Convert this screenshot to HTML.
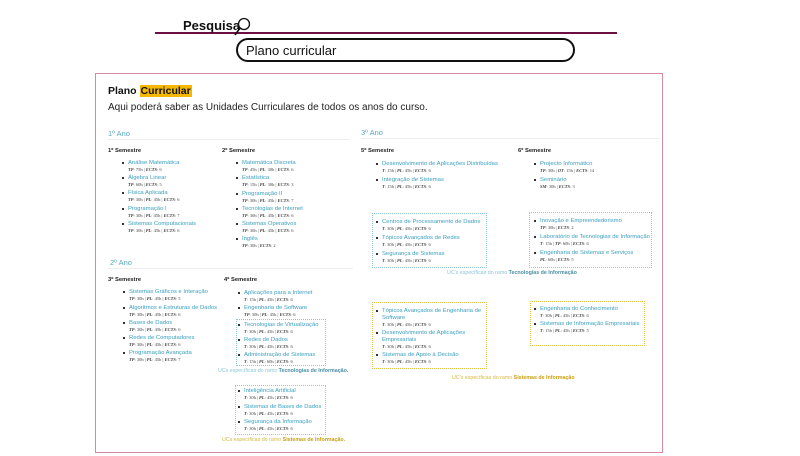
<!DOCTYPE html>
<html><head><meta charset="utf-8"><style>
*{margin:0;padding:0;box-sizing:border-box}
body{width:800px;height:456px;background:#fff;position:relative;overflow:hidden;font-family:"Liberation Sans",sans-serif}
.a{position:absolute;white-space:nowrap}
.it{position:absolute;font-size:5.9px;color:#3a9fbf;line-height:7px;white-space:nowrap}
.it::before{content:"";position:absolute;left:-6px;top:2px;width:2px;height:2px;background:#333}
.it i{display:block;font-style:normal;font-family:"Liberation Serif",serif;font-size:4.5px;color:#444;line-height:6px}
.it i b{font-style:italic}
.sem{position:absolute;font-size:5.8px;font-weight:bold;color:#222}
.yr{position:absolute;font-size:7.5px;color:#5aa8bd}
.bt{position:absolute;border:1px dotted #8cc6d6}
.by{position:absolute;border:1px dotted #e0c040}
.cap{position:absolute;font-size:5.3px;color:#8cc6d6;white-space:nowrap}
.cap b{color:#4a8fa5}
.capy{position:absolute;font-size:5.3px;color:#d8b840;white-space:nowrap}
.capy b{color:#c8a010}
</style></head><body>
<div class="a" style="left:155px;top:32px;width:462px;height:2px;background:#6b1040"></div>
<div class="a" style="left:183px;top:18px;font-size:13px;font-weight:bold;color:#111">Pesquisa</div>
<svg class="a" style="left:230px;top:14px" width="24" height="26"><circle cx="14" cy="10" r="5.5" fill="#fff" stroke="#111" stroke-width="1.3"/><line x1="10" y1="14" x2="5" y2="21" stroke="#111" stroke-width="1.6"/></svg>
<div class="a" style="left:236px;top:38px;width:339px;height:24px;border:2px solid #111;border-radius:12px"></div>
<div class="a" style="left:246px;top:43px;font-size:13px;color:#111">Plano curricular</div>
<div class="a" style="left:95px;top:73px;width:568px;height:380px;border:1px solid #d48a9e"></div>
<div class="a" style="left:108px;top:85px;font-size:10.5px;font-weight:bold;color:#111">Plano <span style="background:#f5b800;padding:0 1px">Curricular</span></div>
<div class="a" style="left:108px;top:102px;font-size:10px;color:#222">Aqui poderá saber as Unidades Curriculares de todos os anos do curso.</div>
<div class="yr" style="left:108px;top:129px">1º Ano</div>
<div class="a" style="left:108px;top:139px;width:242px;height:1px;background:#eee"></div>
<div class="yr" style="left:361px;top:128px">3º Ano</div>
<div class="a" style="left:361px;top:138px;width:299px;height:1px;background:#eee"></div>
<div class="yr" style="left:110px;top:258px">2º Ano</div>
<div class="a" style="left:108px;top:268px;width:245px;height:1px;background:#eee"></div>

<div class="sem" style="left:108px;top:148px">1º Semestre</div>
<div class="it" style="left:128px;top:160px">Análise Matemática<i><b>TP</b>: 75h | <b>ECTS</b>: 6</i></div>
<div class="it" style="left:128px;top:175px">Álgebra Linear<i><b>TP</b>: 60h | <b>ECTS</b>: 5</i></div>
<div class="it" style="left:128px;top:190px">Física Aplicada<i><b>TP</b>: 30h | <b>PL</b>: 45h | <b>ECTS</b>: 6</i></div>
<div class="it" style="left:128px;top:206px">Programação I<i><b>TP</b>: 30h | <b>PL</b>: 45h | <b>ECTS</b>: 7</i></div>
<div class="it" style="left:128px;top:221px">Sistemas Computacionais<i><b>TP</b>: 30h | <b>PL</b>: 45h | <b>ECTS</b>: 6</i></div>

<div class="sem" style="left:222px;top:148px">2º Semestre</div>
<div class="it" style="left:242px;top:160px">Matemática Discreta<i><b>TP</b>: 45h | <b>PL</b>: 30h | <b>ECTS</b>: 6</i></div>
<div class="it" style="left:242px;top:175px">Estatística<i><b>TP</b>: 15h | <b>PL</b>: 30h | <b>ECTS</b>: 3</i></div>
<div class="it" style="left:242px;top:191px">Programação II<i><b>TP</b>: 30h | <b>PL</b>: 45h | <b>ECTS</b>: 7</i></div>
<div class="it" style="left:242px;top:206px">Tecnologias de Internet<i><b>TP</b>: 30h | <b>PL</b>: 45h | <b>ECTS</b>: 6</i></div>
<div class="it" style="left:242px;top:221px">Sistemas Operativos<i><b>TP</b>: 30h | <b>PL</b>: 45h | <b>ECTS</b>: 6</i></div>
<div class="it" style="left:242px;top:236px">Inglês<i><b>TP</b>: 30h | <b>ECTS</b>: 2</i></div>

<div class="sem" style="left:108px;top:277px">3º Semestre</div>
<div class="it" style="left:129px;top:289px">Sistemas Gráficos e Interação<i><b>TP</b>: 30h | <b>PL</b>: 45h | <b>ECTS</b>: 5</i></div>
<div class="it" style="left:129px;top:305px">Algoritmos e Estruturas de Dados<i><b>TP</b>: 30h | <b>PL</b>: 45h | <b>ECTS</b>: 6</i></div>
<div class="it" style="left:129px;top:320px">Bases de Dados<i><b>TP</b>: 30h | <b>PL</b>: 45h | <b>ECTS</b>: 6</i></div>
<div class="it" style="left:129px;top:335px">Redes de Computadores<i><b>TP</b>: 30h | <b>PL</b>: 45h | <b>ECTS</b>: 6</i></div>
<div class="it" style="left:129px;top:350px">Programação Avançada<i><b>TP</b>: 30h | <b>PL</b>: 45h | <b>ECTS</b>: 7</i></div>

<div class="sem" style="left:224px;top:277px">4º Semestre</div>
<div class="it" style="left:244px;top:290px">Aplicações para a Internet<i><b>T</b>: 15h | <b>PL</b>: 45h | <b>ECTS</b>: 6</i></div>
<div class="it" style="left:244px;top:305px">Engenharia de Software<i><b>TP</b>: 30h | <b>PL</b>: 45h | <b>ECTS</b>: 6</i></div>
<div class="bt" style="left:236px;top:319px;width:90px;height:47px"></div>
<div class="it" style="left:244px;top:322px">Tecnologias de Virtualização<i><b>T</b>: 30h | <b>PL</b>: 45h | <b>ECTS</b>: 6</i></div>
<div class="it" style="left:244px;top:337px">Redes de Dados<i><b>T</b>: 30h | <b>PL</b>: 45h | <b>ECTS</b>: 6</i></div>
<div class="it" style="left:244px;top:352px">Administração de Sistemas<i><b>T</b>: 15h | <b>PL</b>: 60h | <b>ECTS</b>: 6</i></div>
<div class="cap" style="left:218px;top:368px">UCs específicas do ramo <b>Tecnologias de Informação.</b></div>
<div class="by" style="left:235px;top:385px;width:91px;height:50px"></div>
<div class="it" style="left:244px;top:388px">Inteligência Artificial<i><b>T</b>: 30h | <b>PL</b>: 45h | <b>ECTS</b>: 6</i></div>
<div class="it" style="left:244px;top:404px">Sistemas de Bases de Dados<i><b>T</b>: 30h | <b>PL</b>: 45h | <b>ECTS</b>: 6</i></div>
<div class="it" style="left:244px;top:419px">Segurança da Informação<i><b>T</b>: 30h | <b>PL</b>: 45h | <b>ECTS</b>: 6</i></div>
<div class="capy" style="left:222px;top:437px">UCs específicas do ramo <b>Sistemas de Informação.</b></div>

<div class="sem" style="left:361px;top:148px">5º Semestre</div>
<div class="it" style="left:382px;top:161px">Desenvolvimento de Aplicações Distribuídas<i><b>T</b>: 15h | <b>PL</b>: 45h | <b>ECTS</b>: 6</i></div>
<div class="it" style="left:382px;top:177px">Integração de Sistemas<i><b>T</b>: 15h | <b>PL</b>: 45h | <b>ECTS</b>: 6</i></div>
<div class="sem" style="left:518px;top:148px">6º Semestre</div>
<div class="it" style="left:540px;top:161px">Projecto Informático<i><b>TP</b>: 30h | <b>OT</b>: 15h | <b>ECTS</b>: 14</i></div>
<div class="it" style="left:540px;top:177px">Seminário<i><b>SM</b>: 30h | <b>ECTS</b>: 3</i></div>

<div class="bt" style="left:372px;top:213px;width:115px;height:55px"></div>
<div class="it" style="left:382px;top:219px">Centros de Processamento de Dados<i><b>T</b>: 30h | <b>PL</b>: 45h | <b>ECTS</b>: 6</i></div>
<div class="it" style="left:382px;top:235px">Tópicos Avançados de Redes<i><b>T</b>: 30h | <b>PL</b>: 45h | <b>ECTS</b>: 6</i></div>
<div class="it" style="left:382px;top:251px">Segurança de Sistemas<i><b>T</b>: 30h | <b>PL</b>: 45h | <b>ECTS</b>: 6</i></div>
<div class="bt" style="left:529px;top:212px;width:123px;height:56px"></div>
<div class="it" style="left:540px;top:218px">Inovação e Empreendedorismo<i><b>TP</b>: 30h | <b>ECTS</b>: 2</i></div>
<div class="it" style="left:540px;top:234px">Laboratório de Tecnologias de Informação<i><b>T</b>: 15h | <b>TP</b>: 60h | <b>ECTS</b>: 6</i></div>
<div class="it" style="left:540px;top:250px">Engenharia de Sistemas e Serviços<i><b>PL</b>: 60h | <b>ECTS</b>: 5</i></div>
<div class="cap" style="left:447px;top:270px">UC's específicas do ramo <b>Tecnologias de Informação</b></div>

<div class="by" style="left:372px;top:302px;width:115px;height:67px"></div>
<div class="it" style="left:382px;top:308px">Tópicos Avançados de Engenharia de<br>Software<i><b>T</b>: 30h | <b>PL</b>: 45h | <b>ECTS</b>: 6</i></div>
<div class="it" style="left:382px;top:330px">Desenvolvimento de Aplicações<br>Empresariais<i><b>T</b>: 30h | <b>PL</b>: 45h | <b>ECTS</b>: 6</i></div>
<div class="it" style="left:382px;top:352px">Sistemas de Apoio à Decisão<i><b>T</b>: 30h | <b>PL</b>: 45h | <b>ECTS</b>: 6</i></div>
<div class="by" style="left:530px;top:301px;width:115px;height:45px"></div>
<div class="it" style="left:540px;top:306px">Engenharia do Conhecimento<i><b>T</b>: 30h | <b>PL</b>: 45h | <b>ECTS</b>: 6</i></div>
<div class="it" style="left:540px;top:321px">Sistemas de Informação Empresariais<i><b>T</b>: 15h | <b>PL</b>: 45h | <b>ECTS</b>: 5</i></div>
<div class="capy" style="left:452px;top:375px">UC's específicas do ramo <b>Sistemas de Informação</b></div>
</body></html>
